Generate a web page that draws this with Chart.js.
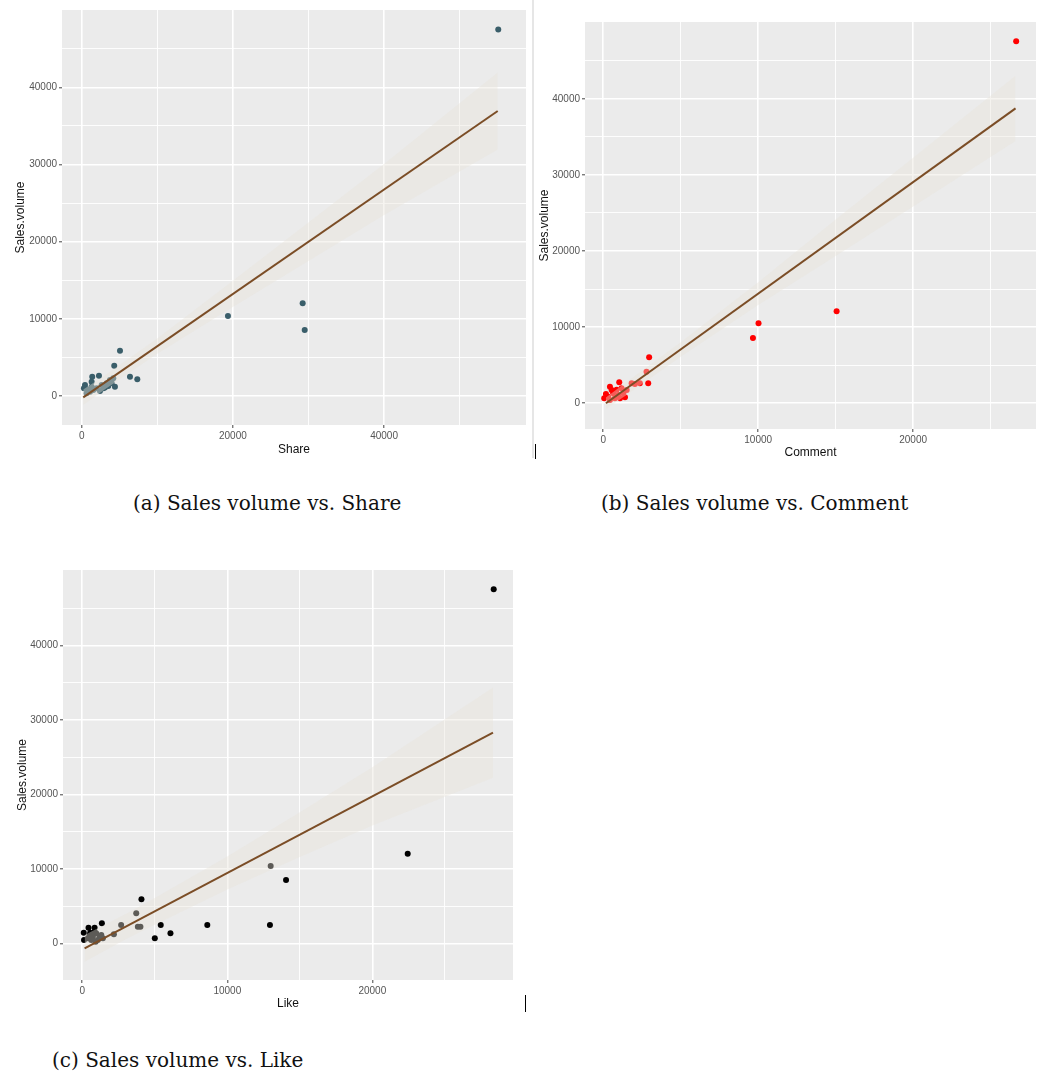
<!DOCTYPE html>
<html>
<head>
<meta charset="utf-8">
<script src="https://cdn.jsdelivr.net/npm/chart.js@4.4.1/dist/chart.umd.min.js"></script>
<style>
  body { margin: 0; background: #fff; width: 1040px; height: 1074px; position: relative; overflow: hidden; }
  canvas { position: absolute; }
  .cap { position: absolute; font-family: 'DejaVu Serif', 'Liberation Serif', serif; font-size: 20px; line-height: 20px; color: #111; white-space: nowrap; }
  .mark { position: absolute; }
</style>
</head>
<body>
<canvas id="share-chart" width="530" height="470" style="left:0;top:0"></canvas>
<canvas id="comment-chart" width="505" height="470" style="left:535px;top:0"></canvas>
<canvas id="like-chart" width="530" height="470" style="left:0;top:560px"></canvas>

<div class="mark" style="left:532px;top:0;width:2px;height:458px;background:#e6e6e6"></div>
<div class="mark" style="left:535px;top:444px;width:1px;height:15px;background:#000"></div>
<div class="mark" style="left:525px;top:995px;width:1px;height:17px;background:#000"></div>

<div class="cap" style="left:133px;top:493px">(a) Sales volume vs. Share</div>
<div class="cap" style="left:601px;top:493px">(b) Sales volume vs. Comment</div>
<div class="cap" style="left:52px;top:1050px">(c) Sales volume vs. Like</div>

<script>
// Tick values
const salesTicks = [0, 10000, 20000, 30000, 40000];
const salesMinor = [5000, 15000, 25000, 35000, 45000];
const shareTicks = [0, 20000, 40000];
const shareMinor = [10000, 30000, 50000];
const smallTicks = [0, 10000, 20000];
const smallMinor = [5000, 15000, 25000];

// (a) Share vs Sales volume  [share, sales]
const sharePoints = [
  [55100, 47500], [19350, 10370], [29230, 12010], [29500, 8550],
  [5070, 5870], [4310, 3930], [6390, 2500], [7360, 2160],
  [2290, 2630], [1400, 2500], [1320, 1850], [440, 1430], [300, 1000], [4400, 1210],
  [3740, 2070], [4180, 2290], [3310, 1640], [3970, 1700], [2650, 1430],
  [1980, 1000], [1540, 780], [1100, 560], [2420, 650], [3080, 1100],
  [660, 350], [1320, 1210], [2860, 1000], [740, 870], [3520, 1300]
];
const shareFit = [[210, -170], [55030, 36930]];
const shareBandX = [210, 3000, 10000, 20000, 30000, 40000, 55030];
const shareBandUpper = [830, 2620, 7460, 14920, 22490, 30060, 41930];
const shareBandLower = [-1170, 820, 5460, 11520, 17490, 23460, 31930];

// (b) Comment vs Sales volume  [comment, sales]
const commentPoints = [
  [26650, 47590], [15060, 12060], [10020, 10480], [9660, 8550],
  [2960, 6010], [2900, 2590], [1030, 2720], [430, 2150], [1400, 750],
  [170, 1180], [60, 620], [540, 1710],
  [2790, 4120], [1830, 2590], [2040, 2500], [2360, 2590], [860, 1750],
  [1180, 1930], [640, 1280], [970, 1050], [320, 830], [430, 390],
  [750, 620], [1290, 1280], [1510, 1710], [220, 800], [1080, 620]
];
const commentFit = [[170, -40], [26610, 38770]];
const commentBandX = [170, 1500, 5000, 10000, 15000, 20000, 26610];
const commentBandUpper = [710, 2760, 8000, 15890, 24130, 32270, 43070];
const commentBandLower = [-790, 1060, 6100, 12890, 19330, 25870, 34470];

// (c) Like vs Sales volume  [like, sales]
const likePoints = [
  [28370, 47510], [22440, 12070], [14050, 8540], [12940, 2500], [12990, 10410],
  [4080, 5950], [1350, 2730], [430, 2150], [850, 2150], [100, 1470], [120, 500],
  [5410, 2500], [5000, 720], [6080, 1390], [8620, 2500],
  [3720, 4070], [2680, 2500], [3830, 2280], [4010, 2280], [2180, 1260],
  [500, 1170], [730, 940], [960, 1390], [1190, 940], [620, 500], [1070, 500],
  [1310, 1170], [850, 1610], [390, 720], [1420, 720], [920, 270], [550, 1470]
];
const likeFit = [[160, -630], [28320, 28290]];
const likeBandX = [160, 3000, 5000, 10000, 15000, 20000, 28320];
const likeBandUpper = [1170, 3990, 6140, 11680, 17610, 23650, 34340];
const likeBandLower = [-2430, 590, 2540, 7280, 11610, 15850, 22240];

// Grey panel like ggplot
const panelBackground = {
  id: 'panelBackground',
  beforeDraw(chart) {
    const {ctx, chartArea} = chart;
    ctx.save();
    ctx.fillStyle = '#ebebeb';
    ctx.fillRect(chartArea.left, chartArea.top, chartArea.right - chartArea.left, chartArea.bottom - chartArea.top);
    ctx.restore();
  }
};

const toXY = (pairs) => pairs.map(p => ({x: p[0], y: p[1]}));
const zipXY = (xs, ys) => xs.map((x, i) => ({x: x, y: ys[i]}));

function makeAxis(major, minor, min, max, size, titleText, titlePad, horizontal) {
  const all = major.concat(minor).sort((a, b) => a - b);
  return {
    type: 'linear',
    min: min,
    max: max,
    afterBuildTicks: (axis) => { axis.ticks = all.map(v => ({value: v})); },
    afterFit: (axis) => {
      if (horizontal) axis.height = size; else axis.width = size;
    },
    border: {display: false},
    grid: {
      color: '#ffffff',
      lineWidth: (c) => (c.tick && major.includes(c.tick.value)) ? 1.6 : 0.9,
      drawTicks: true,
      tickLength: 3,
      tickWidth: 1,
      tickColor: (c) => (c.tick && major.includes(c.tick.value)) ? '#444' : 'rgba(0,0,0,0)'
    },
    ticks: {
      autoSkip: false,
      maxRotation: 0,
      padding: 2,
      color: '#555',
      font: {family: 'Liberation Sans, Arial, sans-serif', size: 10},
      callback: (value) => major.includes(value) ? String(value) : ''
    },
    title: {
      display: true,
      text: titleText,
      color: '#111',
      font: {family: 'Liberation Sans, Arial, sans-serif', size: 12},
      padding: horizontal ? {top: 0, bottom: titlePad} : {top: titlePad, bottom: 0}
    }
  };
}

function makePanel(id, cfg) {
  const ctx = document.getElementById(id).getContext('2d');
  return new Chart(ctx, {
    type: 'scatter',
    data: {
      datasets: [
        {
          type: 'line',
          data: zipXY(cfg.bandX, cfg.upper),
          borderWidth: 0,
          pointRadius: 0,
          backgroundColor: 'rgba(232, 228, 218, 0.4)',
          fill: '+1',
          order: 2
        },
        {
          type: 'line',
          data: zipXY(cfg.bandX, cfg.lower),
          borderWidth: 0,
          pointRadius: 0,
          fill: false,
          order: 2
        },
        {
          type: 'line',
          data: toXY(cfg.fit),
          borderColor: '#7b4d26',
          borderWidth: 2,
          pointRadius: 0,
          fill: false,
          order: 1
        },
        {
          data: toXY(cfg.points),
          backgroundColor: cfg.color,
          borderWidth: 0,
          pointRadius: 3,
          order: 3
        }
      ]
    },
    options: {
      responsive: false,
      animation: false,
      layout: {padding: {top: cfg.padTop, right: cfg.padRight, left: 0, bottom: 0}},
      scales: {
        x: makeAxis(cfg.xMajor, cfg.xMinor, cfg.xMin, cfg.xMax, cfg.xSize, cfg.xTitle, cfg.xTitlePad, true),
        y: makeAxis(salesTicks, salesMinor, cfg.yMin, cfg.yMax, cfg.ySize, 'Sales.volume', cfg.yTitlePad, false)
      },
      plugins: {
        legend: {display: false},
        tooltip: {enabled: false}
      }
    },
    plugins: [panelBackground]
  });
}

makePanel('share-chart', {
  points: sharePoints, fit: shareFit, bandX: shareBandX, upper: shareBandUpper, lower: shareBandLower,
  color: 'rgb(58, 94, 106)',
  xMajor: shareTicks, xMinor: shareMinor, xMin: -2600, xMax: 58770, yMin: -3758, yMax: 50020,
  xSize: 45, ySize: 62, padTop: 10, padRight: 4, xTitle: 'Share', xTitlePad: 13, yTitlePad: 13
});

makePanel('comment-chart', {
  points: commentPoints, fit: commentFit, bandX: commentBandX, upper: commentBandUpper, lower: commentBandLower,
  color: 'rgb(255, 0, 0)',
  xMajor: smallTicks, xMinor: smallMinor, xMin: -1180, xMax: 27930, yMin: -3420, yMax: 50130,
  xSize: 41, ySize: 50, padTop: 22, padRight: 3, xTitle: 'Comment', xTitlePad: 10, yTitlePad: 2
});

makePanel('like-chart', {
  points: likePoints, fit: likeFit, bandX: likeBandX, upper: likeBandUpper, lower: likeBandLower,
  color: 'rgb(0, 0, 0)',
  xMajor: smallTicks, xMinor: smallMinor, xMin: -1330, xMax: 29700, yMin: -4870, yMax: 50100,
  xSize: 50, ySize: 63, padTop: 10, padRight: 17, xTitle: 'Like', xTitlePad: 19, yTitlePad: 15
});
</script>
</body>
</html>
